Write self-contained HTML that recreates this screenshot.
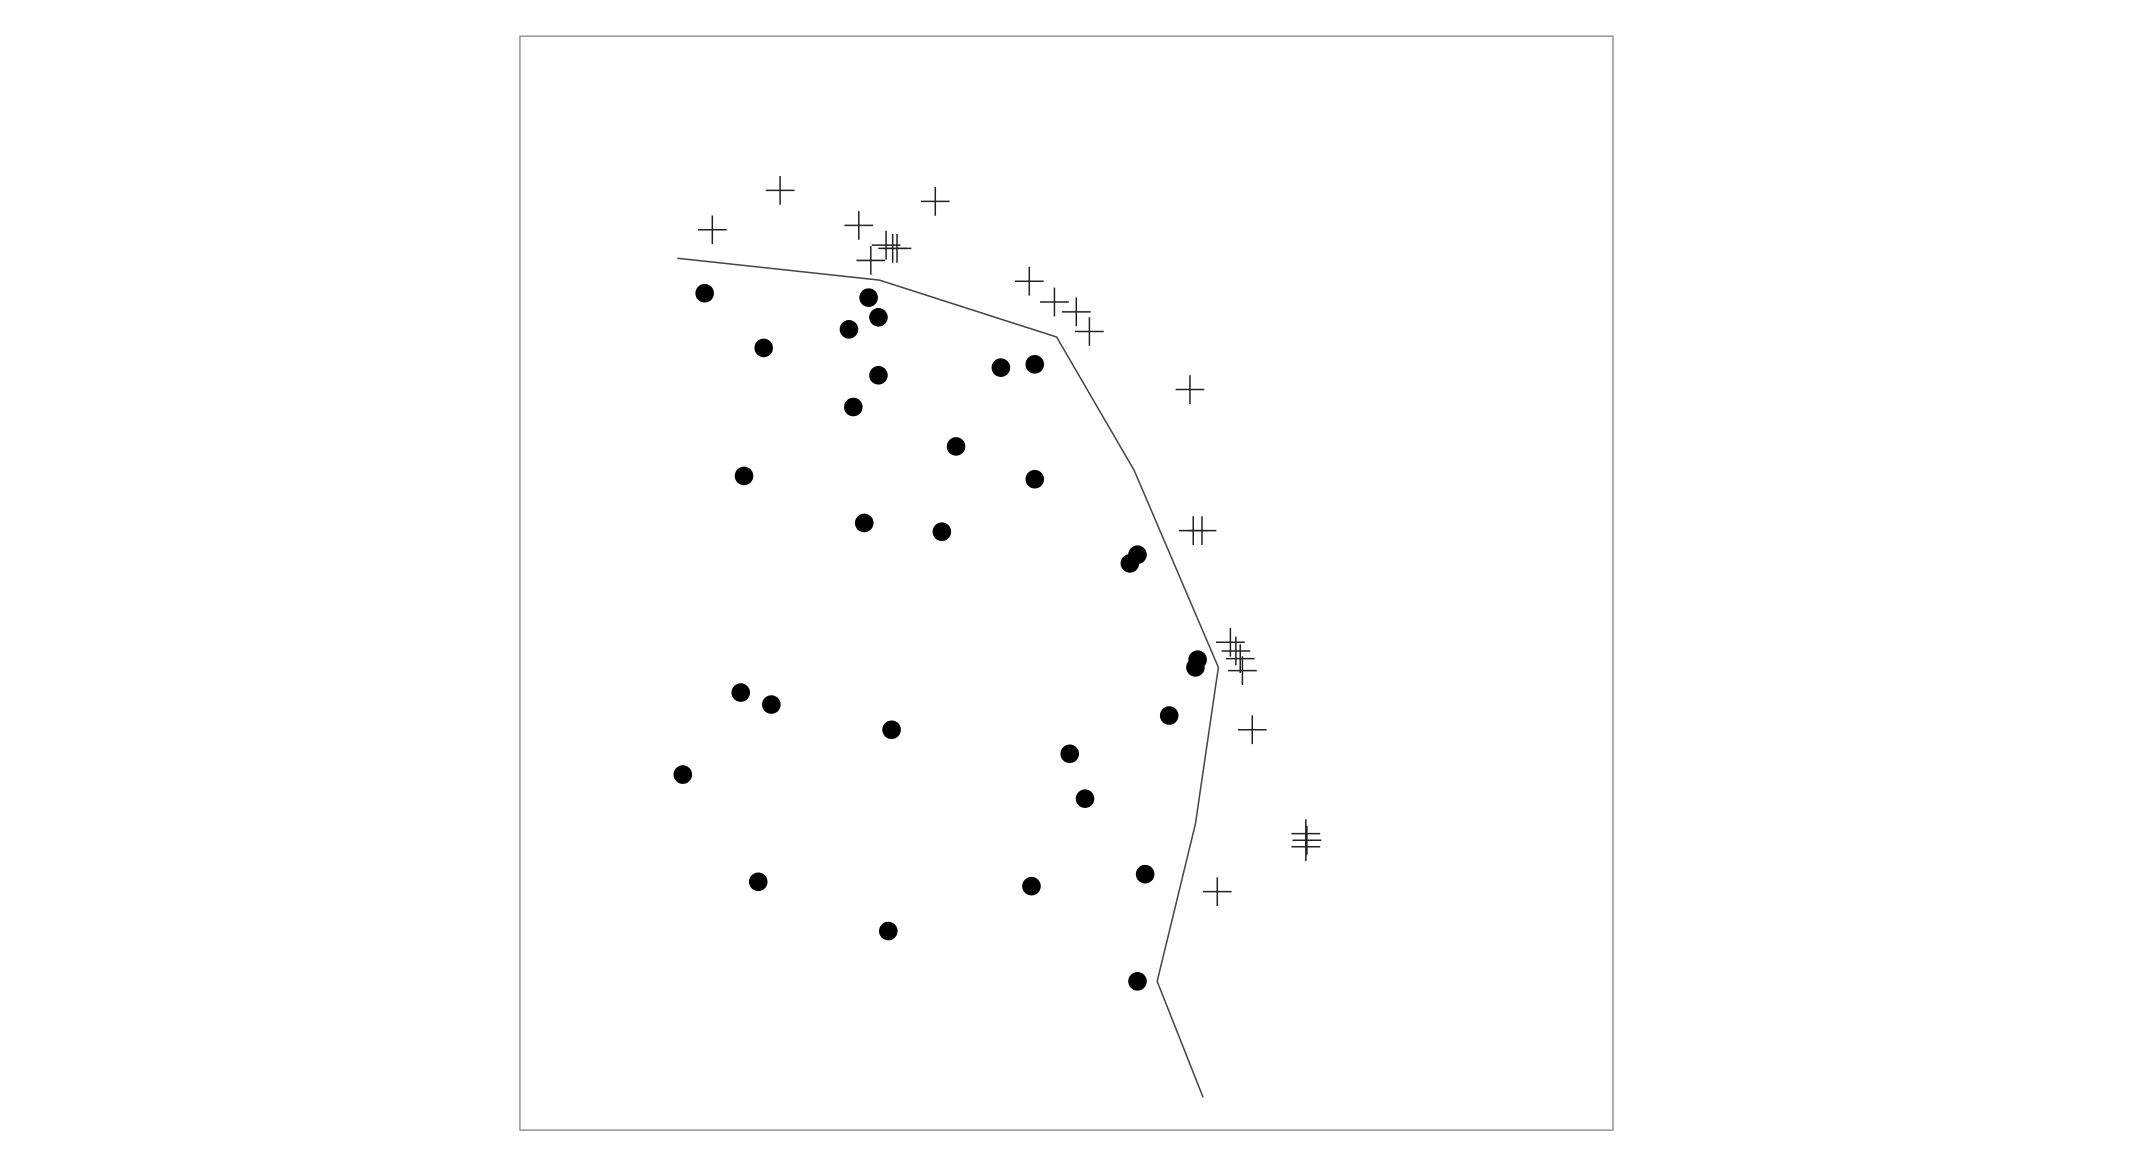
<!DOCTYPE html>
<html><head><meta charset="utf-8"><style>
html,body{margin:0;padding:0;background:#fff;}
svg{display:block;}
</style></head>
<body>
<svg id="chart" width="2134" height="1170" viewBox="0 0 1560 855" xmlns="http://www.w3.org/2000/svg">
<rect x="380.1" y="26.3" width="799" height="799.7" fill="#fff" stroke="#8a8a8a" stroke-width="1"/>
<g id="marks"></g>
</svg>
<script>
const dotX=[16.9,22.3,31.9,32.8,30.1,32.8,30.5,44.0,47.1,39.9,20.5,47.1,31.5,38.6,56.5,55.8,62.0,61.8,20.2,23.0,34.0,59.4,50.3,14.9,51.7,21.8,46.8,57.2,33.7,56.5];
const dotY=[76.5,71.5,76.1,74.3,73.2,69.0,66.1,69.7,70.0,62.5,59.8,59.5,55.5,54.7,52.6,51.8,43.0,42.3,40.0,38.9,36.6,37.9,34.4,32.5,30.3,22.7,22.3,23.4,18.2,13.6];
const crossX=[23.8,17.6,38.0,31.0,33.5,34.1,34.5,32.1,46.6,48.9,50.9,52.1,61.3,61.6,62.4,65.0,65.5,65.9,66.1,67.0,71.9,72.0,71.9,63.8];
const crossY=[85.9,82.3,84.9,82.7,80.9,80.6,80.6,79.5,77.6,75.7,74.8,73.0,67.7,54.8,54.8,44.6,43.8,43.1,42.0,36.6,27.1,26.5,25.9,21.8];
const lineX=[14.4,32.9,49.1,56.2,63.9,61.8,58.3,62.5];
const lineY=[79.7,77.7,72.5,60.3,42.3,28.0,13.6,3.0];

const X0=380.1,X1=1179.1,Y0=826.0,Y1=26.3;
function sx(v){return X0+(X1-X0)*v/100;}
function sy(v){return Y0-(Y0-Y1)*v/100;}
const NS='http://www.w3.org/2000/svg';
const g=document.getElementById('marks');

const pl=document.createElementNS(NS,'polyline');


pl.setAttribute('points',lineX.map((x,i)=>sx(x)+','+sy(lineY[i])).join(' '));
pl.setAttribute('fill','none');pl.setAttribute('stroke','#444');pl.setAttribute('stroke-width','1.1');
g.appendChild(pl);

dotX.forEach((x,i)=>{
  const c=document.createElementNS(NS,'circle');
  
  
  c.setAttribute('cx',sx(x));c.setAttribute('cy',sy(dotY[i]));c.setAttribute('r',6.8);
  c.setAttribute('fill','#000');
  g.appendChild(c);
});

crossX.forEach((x,i)=>{
  const cx=sx(x),cy=sy(crossY[i]),a=10.5;
  const p=document.createElementNS(NS,'path');
  
  
  p.setAttribute('d','M'+(cx-a)+' '+cy+'H'+(cx+a)+'M'+cx+' '+(cy-a)+'V'+(cy+a));
  p.setAttribute('stroke','#222');p.setAttribute('stroke-width','1.1');p.setAttribute('fill','none');
  g.appendChild(p);
});
</script>
</body></html>
